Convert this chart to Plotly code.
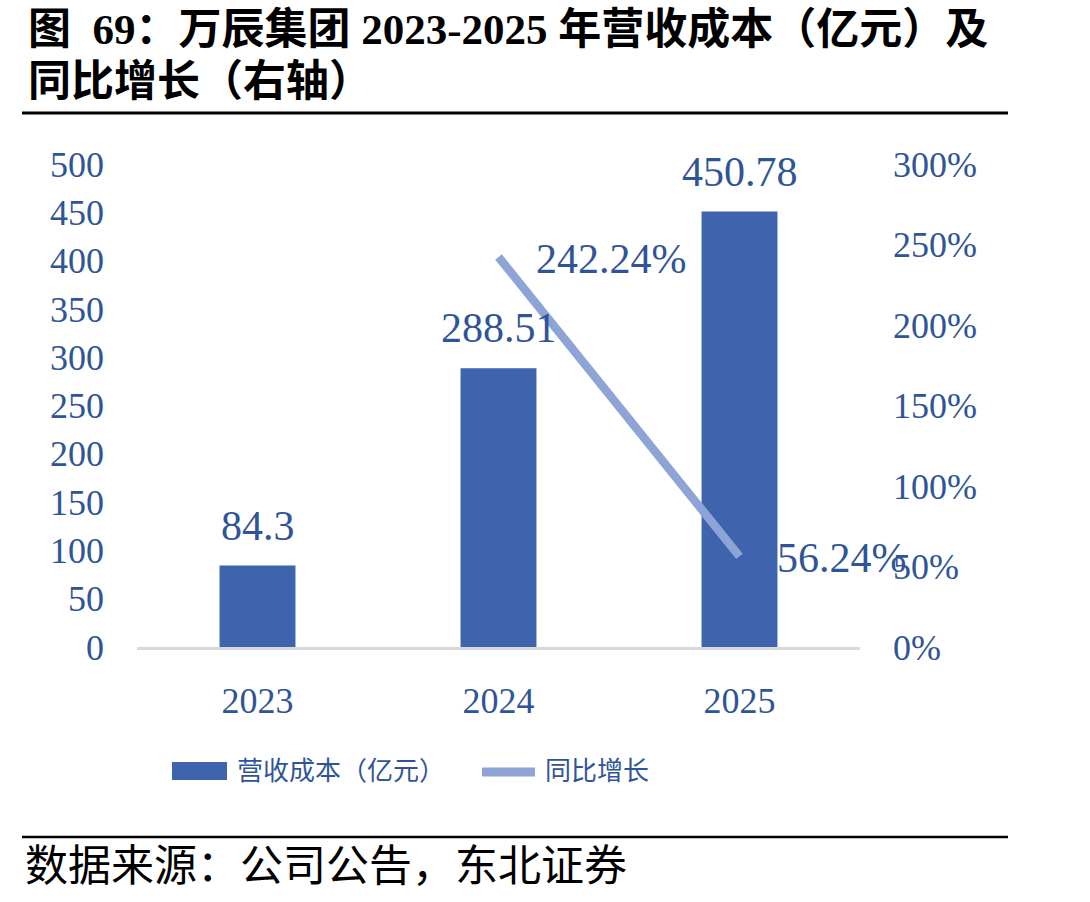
import plotly.graph_objects as go

years = ["2023", "2024", "2025"]
cost = [84.3, 288.51, 450.78]
growth_years = ["2024", "2025"]
growth = [2.4224, 0.5624]
left_ticks = [0, 50, 100, 150, 200, 250, 300, 350, 400, 450, 500]
right_ticks = [0, 0.5, 1.0, 1.5, 2.0, 2.5, 3.0]

title_line1 = "图  69：万辰集团 2023-2025 年营收成本（亿元）及"
title_line2 = "同比增长（右轴）"
source_text = "数据来源：公司公告，东北证券"
legend_bar = "营收成本（亿元）"
legend_line = "同比增长"

BAR = "#3D64AD"
LINE = "#8FA4D6"
TXT = "#2F5597"
SERIF = "Liberation Serif, Times New Roman, Noto Sans CJK SC, serif"
CJK = "Liberation Serif, Noto Sans CJK SC, sans-serif"

W, H = 1090, 902
L, R, T, B = 137, 860, 164, 647


def px(x):
    return (x - L) / (R - L)


def py(y):
    return (B - y) / (B - T)


fig = go.Figure()
fig.add_trace(go.Bar(
    x=years, y=cost, marker=dict(color=BAR, line=dict(width=0)),
    name=legend_bar, hoverinfo="skip", showlegend=False,
))
fig.add_trace(go.Scatter(
    x=growth_years, y=growth, yaxis="y2", mode="lines",
    line=dict(color=LINE, width=8.5), name=legend_line,
    hoverinfo="skip", showlegend=False,
))

ann = []
for xv, v in zip(years, cost):
    ann.append(dict(x=years.index(xv), y=v, xref="x", yref="y", text=f"{v:g}",
                    showarrow=False, yanchor="bottom", xanchor="center", yshift=15,
                    font=dict(family=SERIF, size=42, color=TXT)))
for xv, v in zip(growth_years, growth):
    ann.append(dict(x=years.index(xv), y=v, xref="x", yref="y2", text=f"{v*100:.2f}%",
                    showarrow=False, yanchor="middle", xanchor="left", xshift=35, yshift=-2,
                    font=dict(family=SERIF, size=42, color=TXT)))

# titles and source
ann.append(dict(x=px(26), y=py(29), xref="paper", yref="paper", text=title_line1,
                showarrow=False, xanchor="left", yanchor="middle",
                font=dict(family=CJK, size=43, color="#000000", weight="bold")))
ann.append(dict(x=px(26), y=py(82), xref="paper", yref="paper", text=title_line2,
                showarrow=False, xanchor="left", yanchor="middle",
                font=dict(family=CJK, size=43, color="#000000", weight="bold")))
ann.append(dict(x=px(23), y=py(866), xref="paper", yref="paper", text=source_text,
                showarrow=False, xanchor="left", yanchor="middle",
                font=dict(family=CJK, size=43, color="#000000")))
# manual legend text
ann.append(dict(x=px(235), y=py(771), xref="paper", yref="paper", text=legend_bar,
                showarrow=False, xanchor="left", yanchor="middle",
                font=dict(family=CJK, size=26, color=TXT)))
ann.append(dict(x=px(543), y=py(771), xref="paper", yref="paper", text=legend_line,
                showarrow=False, xanchor="left", yanchor="middle",
                font=dict(family=CJK, size=26, color=TXT)))

shapes = [
    dict(type="line", xref="paper", yref="paper", x0=px(22), x1=px(1008), y0=py(113), y1=py(113),
         line=dict(color="#000000", width=3)),
    dict(type="line", xref="paper", yref="paper", x0=px(22), x1=px(1008), y0=py(837), y1=py(837),
         line=dict(color="#000000", width=2.5)),
    dict(type="rect", xref="paper", yref="paper", x0=px(172), x1=px(227), y0=py(780), y1=py(762),
         fillcolor=BAR, line=dict(width=0)),
    dict(type="line", xref="paper", yref="paper", x0=px(482), x1=px(535), y0=py(772), y1=py(772),
         line=dict(color=LINE, width=9)),
]

fig.update_layout(
    width=W, height=H,
    margin=dict(l=L, r=W - R, t=T, b=H - B, pad=0),
    plot_bgcolor="white", paper_bgcolor="white",
    bargap=0.685,
    showlegend=False,
    xaxis=dict(type="category", range=[-0.5, 2.5], showgrid=False, zeroline=False,
               showline=True, linecolor="#D9D9D9", linewidth=3, ticks="",
               ticklabelstandoff=20,
               tickfont=dict(family=SERIF, size=36, color=TXT)),
    yaxis=dict(range=[0, 500], tickvals=left_ticks, showgrid=False, zeroline=False,
               showline=False, ticks="", ticklabelstandoff=32,
               tickfont=dict(family=SERIF, size=36, color=TXT)),
    yaxis2=dict(range=[0, 3], tickvals=right_ticks, tickformat=".0%", overlaying="y",
                side="right", showgrid=False, zeroline=False, showline=False, ticks="",
                ticklabelstandoff=32,
                tickfont=dict(family=SERIF, size=36, color=TXT)),
    annotations=ann,
    shapes=shapes,
)

fig.write_html("out.html")
